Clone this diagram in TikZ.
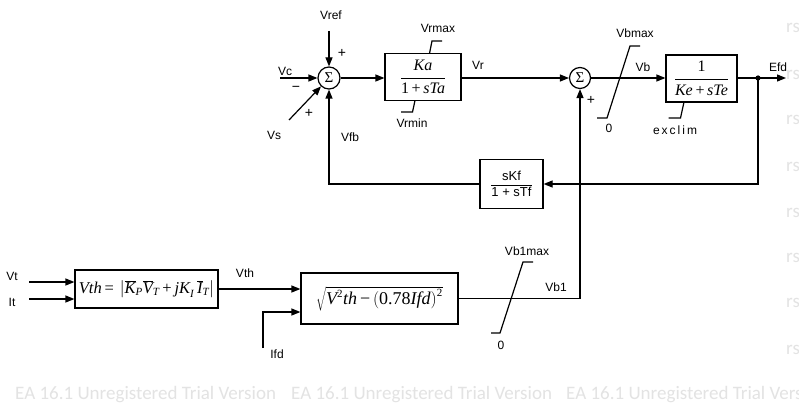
\documentclass[tikz,border=0pt]{standalone}
\usepackage{fontspec}
\setmainfont{Liberation Sans}
\newfontfamily\tnr{Liberation Serif}
\newfontfamily\wmfont{Carlito}
\usetikzlibrary{arrows.meta,calc}
\newcommand\ti[1]{\hbox{\tnr\itshape #1}}
\newcommand\tu[1]{\hbox{\tnr #1}}
\newcommand\tis[1]{\hbox{\tnr\itshape\fontsize{11}{11}\selectfont #1}}
\newcommand\tus[1]{\hbox{\tnr\fontsize{11}{11}\selectfont #1}}
\begin{document}
\begin{tikzpicture}[x=1pt,y=-1pt,
  every node/.style={font=\fontsize{12}{12}\selectfont, inner sep=0pt},
  wm/.style={font=\wmfont\fontsize{19}{19}\selectfont, text=black!11, anchor=west},
  blk/.style={draw, line width=1.2pt, fill=white},
  sumc/.style={draw, circle, line width=1.2pt, minimum size=22pt, inner sep=0pt, font=\tnr\fontsize{15}{15}\selectfont},
  mth/.style={font=\tnr\fontsize{16}{16}\selectfont},
  arr/.style={line width=1.2pt, -{Triangle[length=9pt,width=7pt]}},
  lim/.style={line width=1.2pt},
  sgn/.style={font=\fontsize{14}{14}\selectfont}]
\useasboundingbox (0,0) rectangle (799,417);
\fill[white] (0,0) rectangle (799,417);

% watermark
\node[wm] (w1) at (15,395) {EA 16.1 Unregistered Trial Version};
\node[wm] (w2) at (291,395) {EA 16.1 Unregistered Trial Version};
\node[wm] (w3) at (566,395) {EA 16.1 Unregistered Trial Version};
\foreach \yy/\nm in {28/r1,75/r2,120/r3,167/r4,213/r5,258/r6,303/r7,350/r8}
  \node[wm] (\nm) at (786,\yy) {rs};

% top row
\node[sumc] (s1) at (329,78) {Σ};
\node[blk, minimum width=76pt, minimum height=47pt, mth] (ka) at (423,77)
  {$\displaystyle\frac{\hbox{\itshape Ka}}{\hbox{1\,+\,\itshape sTa}}$};
\node[sumc, minimum size=21pt] (s2) at (580,78) {Σ};
\node[blk, minimum width=71pt, minimum height=47pt, mth] (ke) at (701.5,78.5)
  {$\displaystyle\frac{\hbox{1}}{\hbox{\itshape Ke\,\upshape+\,\itshape sTe}}$};
\node[blk, minimum width=63pt, minimum height=49pt, font=\fontsize{13}{13}\selectfont] (skf) at (511.5,184)
  {$\displaystyle\frac{\hbox{sKf}}{\hbox{1 + sTf}}$};

% bottom row
\node[blk, minimum width=143pt, minimum height=38pt, font=\tnr\fontsize{16.5}{16.5}\selectfont] (vth) at (146.5,289)
  {$\ti{Vth}\,\tu{=}\,\left|\overline{\ti{K}}_{\tis{P}}\overline{\ti{V}}_{\tis{T}}\,\tu{+}\,\ti{jK}_{\tis{I}}\,\overline{\ti{I}}_{\tis{T}}\right|$};
\node[blk, minimum width=157pt, minimum height=51pt, font=\tnr\fontsize{18}{18}\selectfont] (sq) at (379.5,298.5)
  {$\sqrt{\ti{V}^{\tus{2}}\ti{th}\,\tu{−}\,\Bigl(\tu{0.78}\ti{Ifd}\Bigr)^{\tus{2}}}$};

% coordinates
\coordinate (vrefs) at (329,31);
\coordinate (vcs) at (280,78);
\coordinate (vss) at (289,120);
\coordinate (dot) at (758,78);
\coordinate (efde) at (786,78);
\coordinate (vts) at (29,282);
\coordinate (its) at (29,299);
\coordinate (ifds) at (263,348);

% connectors
\draw[arr] (vrefs) -- (s1);
\draw[arr] (vcs) -- (s1);
\draw[arr] (vss) -- (s1);
\draw[arr] (s1) -- (s1 -| ka.west);
\draw[arr] (ka.east |- s2) -- (s2);
\draw[arr] (s2) -- (s2 -| ke.west);
\draw[arr] (ke.east |- dot) -- (efde);
\fill (dot) circle (2.6pt);
\draw[arr] (dot) |- (skf.east);
\draw[arr] (skf.west) -| (s1.south);
\draw[arr] (vts) -- (vts -| vth.west);
\draw[arr] (its) -- (its -| vth.west);
\draw[arr] (vth.east) -- (vth.east -| sq.west);
\draw[arr] (ifds) |- ($(sq.west)+(0,13.5)$);
\draw[arr] (sq.east) -| (s2.south);

% limiters
\draw[lim] (429.5,53.5) -- (432,41) -- (442,41);
\draw[lim] (415,100.5) -- (412.5,112) -- (401,112);
\draw[lim] (684,102) -- (680.5,118) -- (668.5,118);
\draw[lim] (597,118) -- (607,118) -- (630,46) -- (640,46);
\draw[lim] (491,333) -- (500,333) -- (523,262) -- (533,262);

% labels
\node (lvref) at (331,15) {Vref};
\node[sgn] (lp1) at (342,53) {+};
\node (lvc) at (285,71) {Vc};
\node[sgn] (lm1) at (296,89) {−};
\node (lvs) at (274,135) {Vs};
\node[sgn] (lp2) at (309,113) {+};
\node (lvfb) at (350,137) {Vfb};
\node (lvrmax) at (438,28) {Vrmax};
\node (lvrmin) at (412,123) {Vrmin};
\node (lvr) at (478,65) {Vr};
\node[sgn] (lp3) at (591,100) {+};
\node (lvbmax) at (635,33) {Vbmax};
\node (lz1) at (609,128) {0};
\node (lvb) at (643,67) {Vb};
\node (lex) at (675,130) {e\,x\,c\,l\,i\,m};
\node (lefd) at (778,67) {Efd};
\node (lvt) at (12,276) {Vt};
\node (lit) at (12,302) {It};
\node (lvth) at (245,273) {Vth};
\node (lifd) at (277,354) {Ifd};
\node (lvb1max) at (527,251) {Vb1max};
\node (lvb1) at (556,287) {Vb1};
\node (lz2) at (501,345) {0};
\end{tikzpicture}
\end{document}
